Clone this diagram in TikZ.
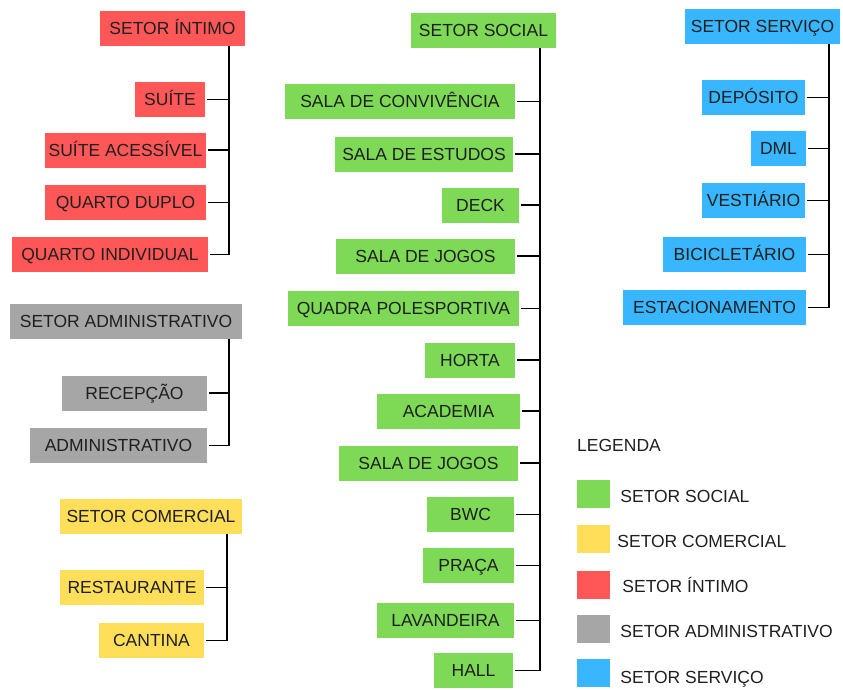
\documentclass[tikz,border=0pt]{standalone}
\usepackage{fontspec}
\setmainfont{Liberation Sans}
\usepackage{tikz}
\usetikzlibrary{positioning}
\definecolor{myred}{HTML}{FF5757}
\definecolor{mygreen}{HTML}{7ED957}
\definecolor{myyellow}{HTML}{FFDE59}
\definecolor{mygray}{HTML}{A6A6A6}
\definecolor{myblue}{HTML}{38B6FF}
\colorlet{txt}{black!88}

\begin{document}
\begin{tikzpicture}[x=1pt,y=-1pt,
		setor/.style={minimum height=35pt,inner sep=0pt,text height=12.6pt,text depth=0pt,text=txt,font=\fontsize{17.5}{20}\selectfont},
		legbox/.style={minimum width=33pt,minimum height=28pt,inner sep=0pt},
		legtext/.style={text=txt,inner sep=0pt,text height=12.6pt,text depth=0pt,font=\fontsize{17.5}{20}\selectfont},
		ramo/.style={line width=1.5pt,shorten <=2pt},
		barra/.style={line width=1.5pt}]
		\useasboundingbox (0,0) rectangle (843,689);
		%% Setor intimo
		\node[setor,fill=myred,minimum width=145pt] (intimo) at (172.5,28.5) {SETOR ÍNTIMO};
		\node[setor,fill=myred,minimum width=70pt] (suite) at (170,99.5) {SUÍTE};
		\node[setor,fill=myred,minimum width=161pt] (suiteacess) at (125.5,150) {SUÍTE ACESSÍVEL};
		\node[setor,fill=myred,minimum width=161pt] (quartoduplo) at (125.5,202.5) {QUARTO DUPLO};
		\node[setor,fill=myred,minimum width=196pt] (quartoind) at (110,254.5) {QUARTO INDIVIDUAL};
		\coordinate (intimobus) at (229,0);
		\draw[barra] (intimo.south -| intimobus) -- (quartoind.east -| intimobus);
		\draw[ramo] (suite.east) -- (suite.east -| intimobus);
		\draw[ramo] (suiteacess.east) -- (suiteacess.east -| intimobus);
		\draw[ramo] (quartoduplo.east) -- (quartoduplo.east -| intimobus);
		\draw[ramo] (quartoind.east) -- (quartoind.east -| intimobus);
		%% Setor administrativo
		\node[setor,fill=mygray,minimum width=232pt] (adm) at (126,321) {SETOR ADMINISTRATIVO};
		\node[setor,fill=mygray,minimum width=145pt] (recepcao) at (134.5,393) {RECEPÇÃO};
		\node[setor,fill=mygray,minimum width=177pt] (administrativo) at (118.5,445.5) {ADMINISTRATIVO};
		\coordinate (admbus) at (229,0);
		\draw[barra] (adm.south -| admbus) -- (administrativo.east -| admbus);
		\draw[ramo] (recepcao.east) -- (recepcao.east -| admbus);
		\draw[ramo] (administrativo.east) -- (administrativo.east -| admbus);
		%% Setor comercial
		\node[setor,fill=myyellow,minimum width=182pt] (comercial) at (151,516) {SETOR COMERCIAL};
		\node[setor,fill=myyellow,minimum width=144pt] (restaurante) at (132,587.5) {RESTAURANTE};
		\node[setor,fill=myyellow,minimum width=105pt] (cantina) at (151.5,640.5) {CANTINA};
		\coordinate (comercialbus) at (227,0);
		\draw[barra] (comercial.south -| comercialbus) -- (cantina.east -| comercialbus);
		\draw[ramo] (restaurante.east) -- (restaurante.east -| comercialbus);
		\draw[ramo] (cantina.east) -- (cantina.east -| comercialbus);
		%% Setor social
		\node[setor,fill=mygreen,minimum width=145pt] (social) at (483.5,30.5) {SETOR SOCIAL};
		\node[setor,fill=mygreen,minimum width=230pt] (convivencia) at (400,101.5) {SALA DE CONVIVÊNCIA};
		\node[setor,fill=mygreen,minimum width=178pt] (estudos) at (424,154) {SALA DE ESTUDOS};
		\node[setor,fill=mygreen,minimum width=77pt] (deck) at (480.5,205) {DECK};
		\node[setor,fill=mygreen,minimum width=179pt] (jogosA) at (425.5,256) {SALA DE JOGOS};
		\node[setor,fill=mygreen,minimum width=231pt] (quadra) at (403.5,308.5) {QUADRA POLESPORTIVA};
		\node[setor,fill=mygreen,minimum width=90pt] (horta) at (470,360) {HORTA};
		\node[setor,fill=mygreen,minimum width=143pt] (academia) at (448.5,411) {ACADEMIA};
		\node[setor,fill=mygreen,minimum width=179pt] (jogosB) at (428.5,463) {SALA DE JOGOS};
		\node[setor,fill=mygreen,minimum width=87pt] (bwc) at (470.5,514.5) {BWC};
		\node[setor,fill=mygreen,minimum width=91pt] (praca) at (468.5,565.5) {PRAÇA};
		\node[setor,fill=mygreen,minimum width=137pt] (lavanderia) at (445.5,620.5) {LAVANDEIRA};
		\node[setor,fill=mygreen,minimum width=79pt] (hall) at (473.5,670.5) {HALL};
		\coordinate (socialbus) at (540,0);
		\draw[barra] (social.south -| socialbus) -- (hall.east -| socialbus);
		\draw[ramo] (convivencia.east) -- (convivencia.east -| socialbus);
		\draw[ramo] (estudos.east) -- (estudos.east -| socialbus);
		\draw[ramo] (deck.east) -- (deck.east -| socialbus);
		\draw[ramo] (jogosA.east) -- (jogosA.east -| socialbus);
		\draw[ramo] (quadra.east) -- (quadra.east -| socialbus);
		\draw[ramo] (horta.east) -- (horta.east -| socialbus);
		\draw[ramo] (academia.east) -- (academia.east -| socialbus);
		\draw[ramo] (jogosB.east) -- (jogosB.east -| socialbus);
		\draw[ramo] (bwc.east) -- (bwc.east -| socialbus);
		\draw[ramo] (praca.east) -- (praca.east -| socialbus);
		\draw[ramo] (lavanderia.east) -- (lavanderia.east -| socialbus);
		\draw[ramo] (hall.east) -- (hall.east -| socialbus);
		%% Setor servico
		\node[setor,fill=myblue,minimum width=155pt] (servico) at (762.5,26.5) {SETOR SERVIÇO};
		\node[setor,fill=myblue,minimum width=103pt] (deposito) at (753.5,97.5) {DEPÓSITO};
		\node[setor,fill=myblue,minimum width=55pt] (dml) at (778.5,148.5) {DML};
		\node[setor,fill=myblue,minimum width=103pt] (vestiario) at (753.5,200.5) {VESTIÁRIO};
		\node[setor,fill=myblue,minimum width=143pt] (bicicletario) at (734.5,254.5) {BICICLETÁRIO};
		\node[setor,fill=myblue,minimum width=183pt] (estacionamento) at (714.5,307.5) {ESTACIONAMENTO};
		\coordinate (servicobus) at (829,0);
		\draw[barra] (servico.south -| servicobus) -- (estacionamento.east -| servicobus);
		\draw[ramo] (deposito.east) -- (deposito.east -| servicobus);
		\draw[ramo] (dml.east) -- (dml.east -| servicobus);
		\draw[ramo] (vestiario.east) -- (vestiario.east -| servicobus);
		\draw[ramo] (bicicletario.east) -- (bicicletario.east -| servicobus);
		\draw[ramo] (estacionamento.east) -- (estacionamento.east -| servicobus);
		%% Legenda
		\node[legtext,anchor=west] (legenda) at (577,445) {LEGENDA};
		\node[legbox,fill=mygreen] (legsocial) at (593.5,494) {};
		\node[legbox,fill=myyellow] (legcomercial) at (593.5,539) {};
		\node[legbox,fill=myred] (legintimo) at (593.5,584.5) {};
		\node[legbox,fill=mygray] (legadm) at (593.5,629) {};
		\node[legbox,fill=myblue] (legservico) at (593.5,673) {};
		\node[legtext,right=10pt of legsocial,yshift=-2pt] {SETOR SOCIAL};
		\node[legtext,right=7pt of legcomercial,yshift=-2pt] {SETOR COMERCIAL};
		\node[legtext,right=12pt of legintimo,yshift=-2pt] {SETOR ÍNTIMO};
		\node[legtext,right=10pt of legadm,yshift=-2pt] {SETOR ADMINISTRATIVO};
		\node[legtext,right=10pt of legservico,yshift=-4pt] {SETOR SERVIÇO};
	\end{tikzpicture}
\end{document}
